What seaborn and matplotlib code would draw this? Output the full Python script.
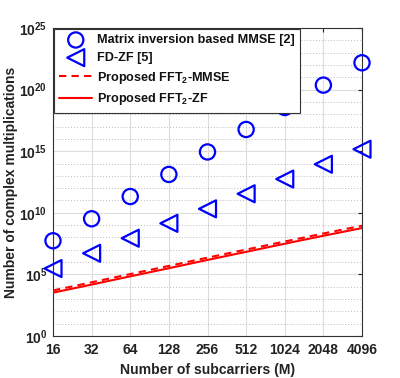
import numpy as np
import pandas as pd
import matplotlib
matplotlib.use("Agg")
import matplotlib.pyplot as plt
import seaborn as sns
from matplotlib.ticker import FixedLocator, NullFormatter, LogFormatterSciNotation

subcarriers = [16, 32, 64, 128, 256, 512, 1024, 2048, 4096]
mmse_inv = [5.4e7, 3.3e9, 2.1e11, 1.3e13, 8.7e14, 5.8e16, 3.5e18, 2.3e20, 1.5e22]
fd_zf = [3.0e5, 5.2e6, 8.7e7, 1.4e9, 2.1e10, 3.5e11, 5.5e12, 8.7e13, 1.45e15]
fft2_mmse = [5.0e3, 2.3e4, 1.07e5, 4.9e5, 2.3e6, 1.04e7, 4.7e7, 2.1e8, 9.0e8]
fft2_zf = [3.3e3, 1.5e4, 7.0e4, 3.2e5, 1.5e6, 6.8e6, 3.1e7, 1.37e8, 5.8e8]
labels = ["Matrix inversion based MMSE [2]", "FD-ZF [5]",
          "Proposed FFT$_2$-MMSE", "Proposed FFT$_2$-ZF"]

sns.set_theme(style="white")
plt.rcParams['font.family'] = ['Liberation Sans', 'DejaVu Sans']
plt.rcParams['font.weight'] = 'bold'
plt.rcParams['mathtext.fontset'] = 'custom'
plt.rcParams['mathtext.rm'] = 'Liberation Sans:bold'
plt.rcParams['mathtext.it'] = 'Liberation Sans:bold'
plt.rcParams['mathtext.bf'] = 'Liberation Sans:bold'
plt.rcParams['mathtext.default'] = 'bf'

df = pd.DataFrame({"M": subcarriers, "mmse": mmse_inv, "fdzf": fd_zf,
                   "f2mmse": fft2_mmse, "f2zf": fft2_zf})

fig = plt.figure(figsize=(4.0, 3.78), dpi=100)
ax = fig.add_axes([0.1325, 0.111, 0.7725, 0.815])

blue = "#0000FF"
red = "#FF0000"
sns.scatterplot(data=df, x="M", y="mmse", ax=ax, marker="o", s=120,
                facecolor="none", edgecolor=blue, linewidth=1.6, clip_on=False,
                zorder=5, label=labels[0])
sns.scatterplot(data=df, x="M", y="fdzf", ax=ax, marker="<", s=150,
                facecolor="none", edgecolor=blue, linewidth=1.6, clip_on=False,
                zorder=5, label=labels[1])
sns.lineplot(data=df, x="M", y="f2mmse", ax=ax, color=red, linestyle=(0, (3.5, 2.5)),
             linewidth=1.5, label=labels[2], zorder=4)
sns.lineplot(data=df, x="M", y="f2zf", ax=ax, color=red, linestyle="-",
             linewidth=1.5, label=labels[3], zorder=4)

ax.set_xscale("log", base=2)
ax.set_yscale("log")
ax.set_xlim(16, 4096)
ax.set_ylim(1, 1e25)
ax.xaxis.set_major_locator(FixedLocator(subcarriers))
ax.set_xticklabels([str(v) for v in subcarriers])
ax.xaxis.set_minor_locator(FixedLocator([]))
ax.yaxis.set_major_locator(FixedLocator([10.0**k for k in range(0, 26, 5)]))
ax.yaxis.set_major_formatter(LogFormatterSciNotation())
ax.yaxis.set_minor_locator(FixedLocator([10.0**k for k in range(0, 26) if k % 5]))
ax.yaxis.set_minor_formatter(NullFormatter())

ax.grid(True, which="major", color="#DDDDDD", linewidth=0.8, linestyle="-")
ax.grid(True, which="minor", axis="y", color="#BBBBBB", linewidth=0.7, linestyle=(0, (1, 2)))
ax.set_axisbelow(True)

ax.tick_params(axis="both", which="major", direction="in", length=3, width=0.8,
               labelsize=10, colors="#222222", top=True, right=True, pad=4)
ax.tick_params(axis="x", which="major", pad=5)
ax.tick_params(axis="y", which="minor", direction="in", length=0)
for s in ax.spines.values():
    s.set_color("#333333")
    s.set_linewidth(0.8)

ax.set_xlabel("Number of subcarriers (M)", fontsize=10.1, fontweight="bold", color="#222222", labelpad=4)
ax.set_ylabel("Number of complex multiplications", fontsize=10, fontweight="bold", color="#222222")
ax.yaxis.set_label_coords(-0.112, 0.5)

leg = ax.legend(loc="upper left", bbox_to_anchor=(0.0, 1.0), frameon=True,
                fancybox=False, framealpha=1, edgecolor="#333333", handlelength=2.6,
                borderaxespad=0.05, labelspacing=0.45, handletextpad=0.35, borderpad=0.45,
                prop={"weight": "bold", "size": 9.1})
leg.get_frame().set_linewidth(0.8)
leg.set_zorder(10)
for t in leg.get_texts():
    t.set_color("#111111")

fig.savefig("out.png", dpi=100)
